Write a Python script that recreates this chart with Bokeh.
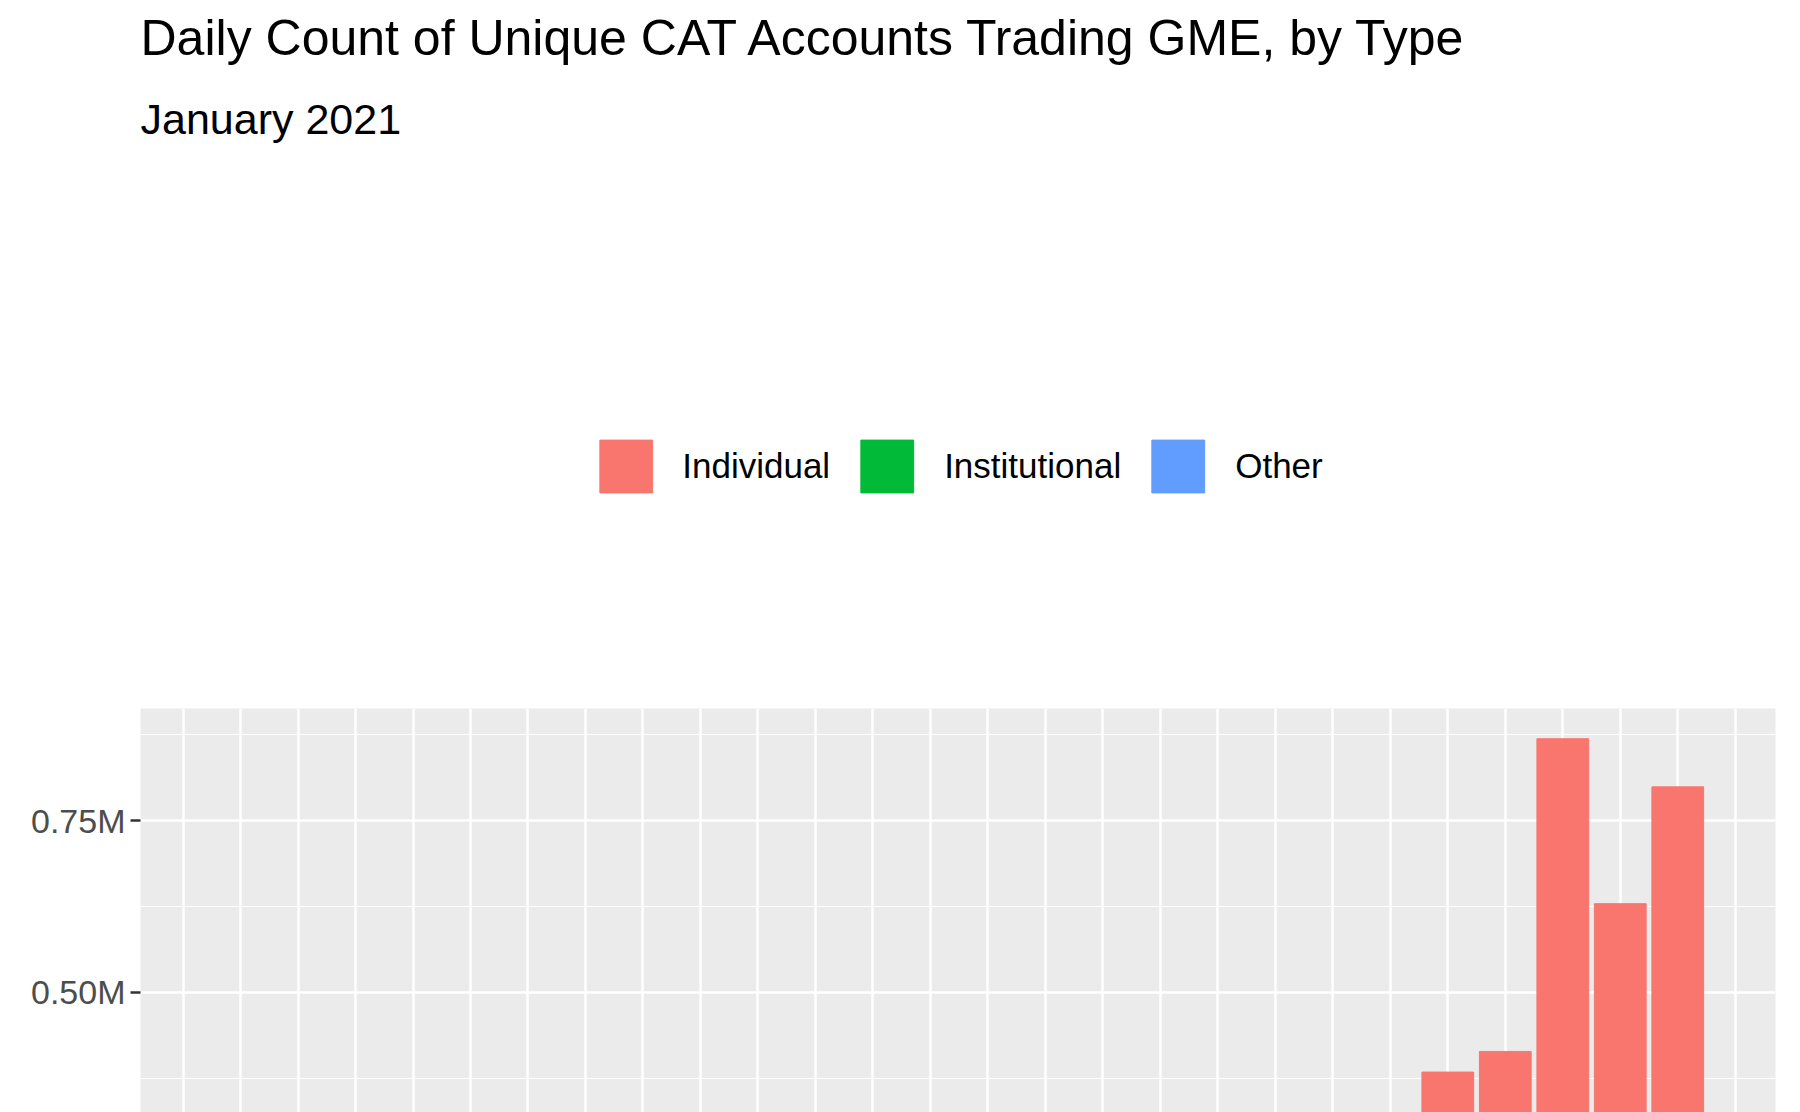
from bokeh.plotting import figure
from bokeh.models import Range1d, FixedTicker, Title, Legend, LegendItem, ColumnDataSource
from bokeh.embed import file_html
from bokeh.resources import INLINE

days = [4, 5, 6, 7, 8, 11, 12, 13, 14, 15, 19, 20, 21, 22, 25, 26, 27, 28, 29]
other = [0.0005, 0.0003, 0.0003, 0.0003, 0.0004, 0.0007, 0.0005, 0.0025, 0.002, 0.0015, 0.0015, 0.001, 0.001, 0.0024, 0.004, 0.005, 0.007, 0.007, 0.007]
institutional = [0.0015, 0.0007, 0.0008, 0.0008, 0.001, 0.002, 0.001, 0.002, 0.003, 0.002, 0.003, 0.002, 0.003, 0.0073, 0.016, 0.016, 0.023, 0.032, 0.032]
individual = [0.013, 0.006, 0.0069, 0.0069, 0.0086, 0.0143, 0.0085, 0.0555, 0.062, 0.0485, 0.0695, 0.039, 0.041, 0.1363, 0.364, 0.393, 0.839, 0.59, 0.76]
series = ["Other", "Institutional", "Individual"]
colors = ["#619CFF", "#00BA38", "#F8766D"]
tick_days = list(range(3, 31))
tick_labels = {d: "%02d" % d for d in tick_days}
y_ticks = [0, 0.25, 0.5, 0.75]
y_labels = {0: "0.00M", 0.25: "0.25M", 0.5: "0.50M", 0.75: "0.75M"}

src = ColumnDataSource(dict(day=days, Other=other, Institutional=institutional, Individual=individual))

p = figure(frame_width=1635, frame_height=655, output_backend="svg", toolbar_location=None,
           x_range=Range1d(2.26, 30.7), y_range=Range1d(-0.040, 0.913),
           min_border_left=140, min_border_right=9, min_border_bottom=10, min_border_top=10)
p.title = None
r = p.vbar_stack(series, x="day", width=0.9, color=colors, source=src)

p.background_fill_color = "#EBEBEB"
p.border_fill_color = "white"
p.outline_line_color = None
for ax in (p.xaxis[0], p.yaxis[0]):
    ax.axis_line_color = None
    ax.major_tick_line_color = "#333333"
    ax.major_tick_line_width = 2.5
    ax.major_tick_out = 10
    ax.major_tick_in = 0
    ax.minor_tick_line_color = None
    ax.major_label_text_font = "Liberation Sans"
    ax.major_label_text_font_size = "34px"
    ax.major_label_text_color = "#4D4D4D"
    ax.major_label_standoff = 5
p.xaxis.ticker = FixedTicker(ticks=tick_days)
p.xaxis.major_label_overrides = tick_labels
p.yaxis.ticker = FixedTicker(ticks=y_ticks, minor_ticks=[0.125, 0.375, 0.625, 0.875])
p.yaxis.major_label_overrides = y_labels
p.xgrid.grid_line_color = "white"
p.xgrid.grid_line_width = 2.5
p.ygrid.grid_line_color = "white"
p.ygrid.grid_line_width = 2.5
p.ygrid.minor_grid_line_color = "white"
p.ygrid.minor_grid_line_width = 1.2

p.add_layout(Title(text=" ", text_font_size="40px", standoff=0, offset=0), "above")
items = [LegendItem(label=s, renderers=[r[i]]) for i, s in [(2, "Individual"), (1, "Institutional"), (0, "Other")]]
leg = Legend(items=items, orientation="horizontal", location="center",
             glyph_width=66, glyph_height=66, label_text_font="Liberation Sans",
             label_text_font_size="35px", label_text_color="black", label_standoff=24, spacing=24,
             border_line_color=None, background_fill_alpha=0, margin=0, padding=0)
p.add_layout(leg, "above")
p.add_layout(Title(text="January 2021", text_font="Liberation Sans", text_font_size="43px",
                   text_color="black", text_font_style="normal", offset=0, standoff=40), "above")
p.add_layout(Title(text="Daily Count of Unique CAT Accounts Trading GME, by Type", text_font="Liberation Sans",
                   text_font_size="50px", text_color="black", text_font_style="normal", standoff=14), "above")
p.add_layout(Title(text="Source: Consolidated Audit Trail", text_font="Liberation Sans", text_font_size="36px",
                   text_color="black", text_font_style="normal", align="right", standoff=10), "below")

open("out.html", "w").write(file_html(p, INLINE))
